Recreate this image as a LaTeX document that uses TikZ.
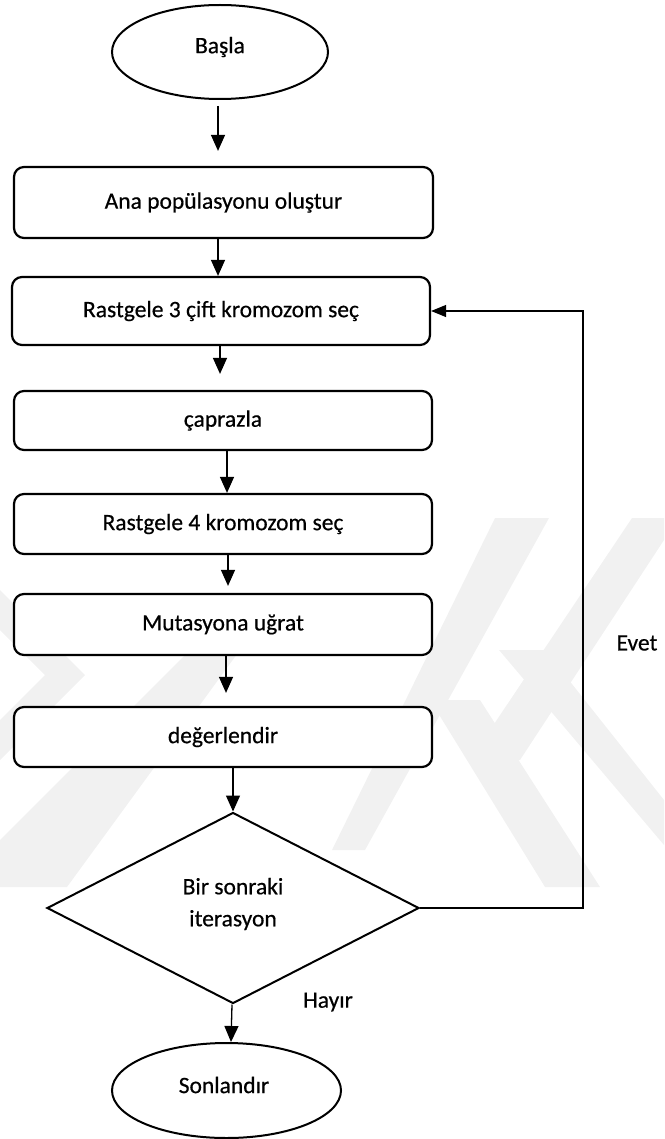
\documentclass[tikz,border=0pt]{standalone}
\usepackage{fontspec}
\setmainfont{Carlito}[FakeBold=0.5]
\usetikzlibrary{shapes.geometric,arrows.meta,calc}
\definecolor{wm}{RGB}{241,241,241}
\tikzset{
  txt/.style={font=\fontsize{23.5}{32}\selectfont},
  procbox/.style={draw, line width=2.2pt, rounded corners=10pt, fill=white,
    minimum width=418pt, inner sep=0pt, txt},
  term/.style={draw, ellipse, line width=2pt, fill=white, inner sep=0pt, txt},
  decision/.style={draw, diamond, line width=2pt, fill=white, inner sep=0pt,
    minimum width=372pt, minimum height=191pt, align=center, txt},
  arr/.style={line width=1.3pt, -{Triangle[length=16pt,width=14pt]}},
  farr/.style={line width=1.2pt, -{Triangle[length=15pt,width=12pt]}},
  lab/.style={txt, inner sep=0pt},
  wmark/.style={fill=wm, draw=none}
}
\begin{document}
\begin{tikzpicture}[x=1pt,y=-1pt]
\useasboundingbox (0,0) rectangle (664,1139);
% watermark (faint background)
\fill[wmark] (0,590) -- (0,630) -- (45,675) -- (0,720) -- (0,760) -- (85,675) -- cycle;
\fill[wmark] (0,840) -- (0,887) -- (67,887) -- (240,650) -- (190,650) -- cycle;
\fill[wmark] (495,518) -- (549,518) -- (365,850) -- (332,850) -- cycle;
\fill[wmark] (632,518) -- (664,518) -- (664,540) -- (520,760) -- (470,760) -- cycle;
\fill[wmark] (499,650) -- (545,650) -- (664,800) -- (664,845) -- cycle;
\fill[wmark] (430,700) -- (480,700) -- (600,887) -- (545,887) -- cycle;
% nodes
\node[term, minimum width=216pt, minimum height=94pt] (start) at (220,52) {};
\node[lab] at (220,47) {Başla};
\node[procbox, minimum width=419pt, minimum height=71pt] (b1) at (223.5,202.5) {Ana popülasyonu oluştur};
\node[procbox, minimum height=68pt] (b2) at (221,311) {Rastgele 3 çift kromozom seç};
\node[procbox, minimum height=59pt] (b3) at (223,420.5) {çaprazla};
\node[procbox, minimum height=60pt] (b4) at (223,524) {Rastgele 4 kromozom seç};
\node[procbox, minimum height=61pt] (b5) at (223,624.5) {Mutasyona uğrat};
\node[procbox, minimum height=60pt] (b6) at (223,737) {değerlendir};
\node[decision] (dec) at (233,908) {};
\node[lab, align=center] at (233,904) {Bir sonraki\\iterasyon};
\node[term, minimum width=229pt, minimum height=95pt] (end) at (226.5,1090.5) {};
\node[lab] at (224,1085) {Sonlandır};
\node[lab] (evet) at (637,643) {Evet};
\node[lab] (hayir) at (328,1002) {Hayır};
\coordinate (fb) at (583,311);
% connectors
\draw[arr] ($(start.south)+(-2,6)$) -- ($(b1.north)+(-5.5,-15)$);
\draw[arr] ($(b1.south)+(-5.5,0)$) -- ($(b2.north)+(-3,0)$);
\draw[arr] ($(b2.south)+(-1,0)$) -- ($(b3.north)+(-3,-16)$);
\draw[arr] ($(b3.south)+(4,0)$) -- ($(b4.north)+(4,0)$);
\draw[arr] ($(b4.south)+(5,0)$) -- ($(b5.north)+(5,-7)$);
\draw[arr] ($(b5.south)+(3,0)$) -- ($(b6.north)+(3,-13)$);
\draw[arr] ($(b6.south)+(10,0)$) -- (dec.north);
\draw[arr] ($(dec.south)+(-1,0)$) -- ($(end.north)+(4.5,0)$);
\draw[farr] (dec.east) -| (fb) -- (b2.east);
\end{tikzpicture}
\end{document}
